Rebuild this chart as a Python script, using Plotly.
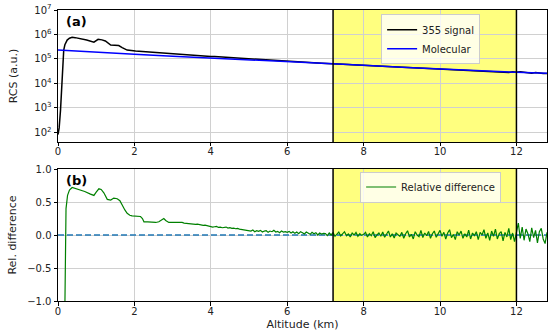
import plotly.graph_objects as go

# ---------------- data ----------------
# Molecular RCS (a.u.)
mol_alt = [0, 1, 2, 3, 4, 5, 6, 7, 8, 9, 10, 11, 12, 12.8]
mol_rcs = [2.29e5, 1.95e5, 1.55e5, 1.29e5, 1.10e5, 9.12e4, 7.76e4, 6.61e4,
           5.50e4, 4.57e4, 3.80e4, 3.24e4, 2.82e4, 2.57e4]

# 355 signal, near range
sig_alt_near = [0.0, 0.03, 0.066, 0.09, 0.11, 0.13, 0.15, 0.18, 0.24, 0.30, 0.37,
                0.45, 0.6, 0.75, 0.94, 1.05, 1.15, 1.24, 1.38, 1.50, 1.59, 1.68,
                1.81, 2.03, 2.29, 2.56, 2.70, 2.82, 2.92]
sig_rcs_near = [80, 150, 800, 5000, 1.9e4, 8e4, 2.3e5, 3.8e5, 5.9e5, 7.0e5, 7.6e5,
                7.4e5, 6.7e5, 5.9e5, 4.8e5, 6.3e5, 6.0e5, 5.4e5, 3.7e5, 3.6e5,
                3.5e5, 2.9e5, 2.3e5, 2.1e5, 1.95e5, 1.78e5, 1.72e5, 1.70e5, 1.62e5]

# 355 signal, far range (units of 1e4), sampled every 0.1 km from 3.0 km
sig_far_start = 3.0
sig_far_step = 0.1
sig_rcs_far_1e4 = [
    15.9, 15.7, 15.3, 15.0, 14.6, 14.4, 14.0, 13.7, 13.3, 13.0,
    12.6, 12.4, 12.1, 11.8, 11.5, 11.3, 11.0, 10.7, 10.4, 10.2,
    9.9, 9.7, 9.5, 9.2, 9.0, 8.8, 8.6, 8.4, 8.2, 8.1,
    7.95, 7.75, 7.6, 7.5, 7.3, 7.2, 7.0, 6.95, 6.8, 6.7,
    6.65, 6.45, 6.4, 6.2, 6.1, 6.05, 5.95, 5.8, 5.7, 5.65,
    5.55, 5.4, 5.3, 5.3, 5.2, 5.0, 4.95, 4.95, 4.85, 4.7,
    4.6, 4.6, 4.5, 4.35, 4.3, 4.3, 4.2, 4.0, 3.95, 4.0,
    3.9, 3.75, 3.7, 3.75, 3.65, 3.5, 3.45, 3.5, 3.4, 3.25,
    3.2, 3.3, 3.15, 3.05, 3.0, 3.1, 2.95, 2.85, 2.8, 2.95,
    2.85, 3.0, 2.75, 2.7, 2.6, 2.75, 2.65, 2.5, 2.55]

# Relative difference, near range
rd_alt_near = [0.17, 0.18, 0.19, 0.21, 0.25, 0.30, 0.37, 0.5, 0.7, 0.85, 0.94, 1.0,
               1.07, 1.13, 1.2, 1.29, 1.38, 1.46, 1.55, 1.62, 1.68, 1.75, 1.81,
               1.88, 1.94, 2.05, 2.16, 2.21, 2.25, 2.35, 2.45, 2.56, 2.64, 2.72,
               2.77, 2.82, 2.9, 2.95]
rd_near = [-1.6, -0.6, 0.0, 0.4, 0.6, 0.68, 0.72, 0.70, 0.66, 0.62, 0.60, 0.65,
           0.70, 0.69, 0.64, 0.54, 0.53, 0.56, 0.55, 0.52, 0.45, 0.38, 0.33,
           0.30, 0.29, 0.28, 0.28, 0.25, 0.20, 0.20, 0.19, 0.19, 0.20, 0.23,
           0.25, 0.22, 0.19, 0.19]

# Relative difference, far range, sampled every 0.05 km from 3.0 km
rd_far_start = 3.0
rd_far_step = 0.05
rd_far = [
    0.19, 0.185, 0.19, 0.195, 0.185, 0.19, 0.18, 0.175, 0.18, 0.17,
    0.17, 0.165, 0.16, 0.165, 0.155, 0.15, 0.145, 0.15, 0.14, 0.135,
    0.125, 0.12, 0.125, 0.13, 0.115, 0.12, 0.11, 0.115, 0.12, 0.105,
    0.11, 0.10, 0.105, 0.095, 0.10, 0.09, 0.085, 0.09, 0.08, 0.075,
    0.07, 0.06, 0.075, 0.05, 0.065, 0.055, 0.07, 0.045, 0.06, 0.065,
    0.04, 0.06, 0.05, 0.07, 0.045, 0.055, 0.035, 0.06, 0.045, 0.05,
    0.04, 0.055, 0.03, 0.05, 0.025, 0.045, 0.02, 0.05, 0.035, 0.015,
    0.045, 0.03, 0.01, 0.04, 0.02, 0.035, 0.0, 0.03, 0.015, 0.025,
    0.02, -0.01, 0.03, 0.0, 0.035, -0.02, 0.01, 0.045, -0.015, 0.02,
    0.05, -0.01, 0.015, -0.03, 0.03, 0.0, 0.04, -0.02, 0.02, -0.005,
    0.01, 0.04, -0.03, 0.02, -0.01, 0.05, -0.04, 0.0, 0.03, -0.02,
    0.045, -0.035, 0.015, 0.06, -0.03, 0.02, -0.045, 0.03, 0.005, -0.02,
    0.04, -0.05, 0.02, 0.065, -0.03, 0.01, -0.06, 0.05, 0.0, -0.025,
    0.07, -0.04, 0.03, -0.01, 0.055, -0.05, 0.02, 0.06, -0.035, 0.01,
    0.07, -0.02, 0.04, -0.06, 0.03, 0.08, -0.04, 0.01, -0.07, 0.05,
    0.0, 0.06, -0.05, 0.02, -0.03, 0.075, -0.06, 0.03, -0.01, 0.05,
    -0.07, 0.04, 0.0, 0.08, -0.05, 0.03, -0.08, 0.06, -0.02, 0.09,
    -0.06, 0.02, 0.05, -0.09, 0.04, -0.03, 0.1, -0.07, 0.03, -0.1,
    0.06, 0.18, -0.05, 0.12, -0.08, 0.09, 0.02, -0.1, 0.11, -0.04,
    0.07, -0.12, 0.05, 0.1, -0.06, -0.13, 0.04]

calib_range = [7.2, 12.0]
x_range = [0, 12.8]
x_ticks = [0, 2, 4, 6, 8, 10, 12]
y_log_ticks = [2, 3, 4, 5, 6, 7]
y_lin_ticks = [-1.0, -0.5, 0.0, 0.5, 1.0]
y_log_range = [1.6, 7]
y_lin_range = [-1, 1]

# ---------------- build series ----------------
sig_alt_far = [round(sig_far_start + sig_far_step * i, 3) for i in range(len(sig_rcs_far_1e4))]
sig_alt = sig_alt_near + sig_alt_far
sig_rcs = sig_rcs_near + [v * 1e4 for v in sig_rcs_far_1e4]

rd_alt_far = [round(rd_far_start + rd_far_step * i, 3) for i in range(len(rd_far))]
rd_alt = rd_alt_near + rd_alt_far
rd = rd_near + rd_far

# ---------------- figure ----------------
fig = go.Figure()
FONT = "DejaVu Sans"

fig.add_trace(go.Scatter(x=sig_alt, y=sig_rcs, mode="lines", name="355 signal",
                         line=dict(color="black", width=1.5), xaxis="x", yaxis="y",
                         legend="legend"))
fig.add_trace(go.Scatter(x=mol_alt, y=mol_rcs, mode="lines", name="Molecular",
                         line=dict(color="#0000ff", width=1.5), xaxis="x", yaxis="y",
                         legend="legend"))
fig.add_trace(go.Scatter(x=x_range, y=[0, 0], mode="lines", showlegend=False,
                         line=dict(color="#1f77b4", width=1.5, dash="6px,3px"),
                         xaxis="x2", yaxis="y2", hoverinfo="skip"))
fig.add_trace(go.Scatter(x=rd_alt, y=rd, mode="lines", name="Relative difference",
                         line=dict(color="#008000", width=1.2), xaxis="x2", yaxis="y2",
                         legend="legend2"))

shapes = []
for xa, ya, yr in (("x", "y", [10 ** y_log_range[0], 10 ** y_log_range[1]]),
                   ("x2", "y2", y_lin_range)):
    shapes.append(dict(type="rect", xref=xa, yref=ya,
                       x0=calib_range[0], x1=calib_range[1], y0=yr[0], y1=yr[1],
                       fillcolor="rgba(255,255,0,0.5)", line=dict(width=0),
                       layer="below"))
    for xv in calib_range:
        shapes.append(dict(type="line", xref=xa, yref=ya,
                           x0=xv, x1=xv, y0=yr[0], y1=yr[1],
                           line=dict(color="black", width=1.5), layer="above"))

axis_common = dict(showline=True, linecolor="black", linewidth=1, mirror=True,
                   ticks="outside", ticklen=3.5, tickcolor="black", automargin=False,
                   showgrid=True, gridcolor="#d0d0d0", gridwidth=1,
                   zeroline=False, tickfont=dict(family=FONT, size=10, color="#222"))

fig.update_layout(
    template="none",
    width=550, height=332,
    margin=dict(l=57.5, r=3, t=10, b=31, pad=0),
    paper_bgcolor="white", plot_bgcolor="rgba(0,0,0,0)",
    font=dict(family=FONT, size=10, color="#222"),
    xaxis=dict(domain=[0, 1], range=x_range, tickvals=x_ticks, anchor="y",
               ticklabelstandoff=-3, **axis_common),
    yaxis=dict(domain=[0.5464, 1], type="log", range=y_log_range,
               tickvals=[10 ** k for k in y_log_ticks],
               ticktext=[f"10<sup>{k}</sup>" for k in y_log_ticks],
               title=dict(text="RCS (a.u.)", font=dict(family=FONT, size=11), standoff=14),
               anchor="x", **axis_common),
    xaxis2=dict(domain=[0, 1], range=x_range, tickvals=x_ticks, anchor="y2",
                ticklabelstandoff=-3,
                title=dict(text="Altitude (km)", font=dict(family=FONT, size=11), standoff=4),
                **axis_common),
    yaxis2=dict(domain=[0, 0.4536], range=y_lin_range, tickvals=y_lin_ticks, tickformat=".1f",
                title=dict(text="Rel. difference", font=dict(family=FONT, size=11), standoff=8),
                anchor="x2", **axis_common),
    shapes=shapes,
    showlegend=True,
    legend=dict(x=0.762, y=0.985, xanchor="center", yanchor="top",
                bgcolor="rgba(255,255,255,0.8)", bordercolor="#cccccc", borderwidth=1,
                font=dict(family=FONT, size=10), itemwidth=30, tracegroupgap=0),
    legend2=dict(x=0.762, y=0.445, xanchor="center", yanchor="top",
                 bgcolor="rgba(255,255,255,0.8)", bordercolor="#cccccc", borderwidth=1,
                 font=dict(family=FONT, size=10), itemwidth=30),
    annotations=[
        dict(text="<b>(a)</b>", xref="x domain", yref="y domain", x=0.012, y=0.985,
             xanchor="left", yanchor="top", showarrow=False,
             font=dict(family=FONT, size=13, color="black")),
        dict(text="<b>(b)</b>", xref="x2 domain", yref="y2 domain", x=0.012, y=0.985,
             xanchor="left", yanchor="top", showarrow=False,
             font=dict(family=FONT, size=13, color="black")),
    ],
)

# remove the default 8px page margin so the figure sits at the window's corner
fig.write_html("out.html", config={"displayModeBar": False},
               post_script="document.body.style.margin='0';")
